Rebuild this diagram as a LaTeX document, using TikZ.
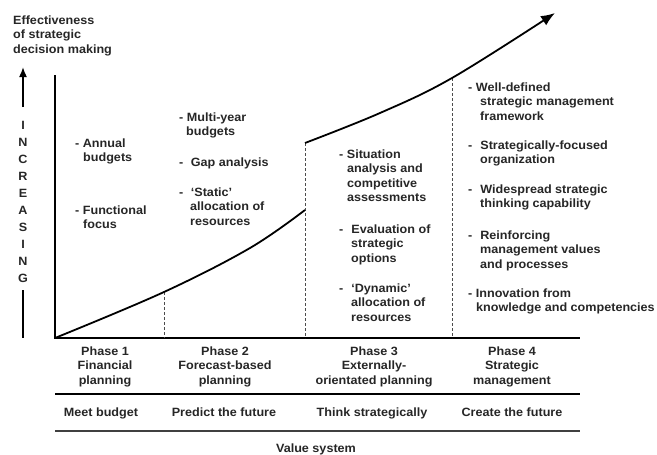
\documentclass[tikz,border=0pt]{standalone}
\usepackage{fontspec}
\setmainfont{Liberation Sans}[FakeStretch=1.05]
\usetikzlibrary{arrows.meta,positioning}

\begin{document}
\begin{tikzpicture}
  [
    x=1pt, y=-1pt,
    every node/.style={font=\bfseries\fontsize{12}{14.5}\selectfont, text=black!85},
    Item/.style={anchor=base west, align=left, inner sep=0pt},
    Phase/.style={anchor=base, align=center, inner sep=0pt},
    Letter/.style={inner sep=0pt},
    Axis/.style={line width=2pt, line join=miter},
    Rule/.style={line width=2pt},
    Divider/.style={line width=0.7pt, black!70, dash pattern=on 3pt off 2pt},
    Curve/.style={line width=1.8pt}
  ]
  \useasboundingbox (0,0) rectangle (657,455);
  % Nodes (placed at the baseline of their last line)
  \node[Item] (title) at (13,53) {Effectiveness\\of strategic\\decision making};
  \foreach \l [count=\i] in {I,N,C,R,E,A,S,I,N,G}
    \node[Letter] (inc\i) at (23,{125+17*(\i-1)}) {\l};
  \node[Item] (p1a) at (75,161.5) {- Annual\\\hspace*{8pt}budgets};
  \node[Item] (p1b) at (75,228.5) {- Functional\\\hspace*{8pt}focus};
  \node[Item] (p2a) at (179,135.5) {- Multi-year\\\hspace*{7pt}budgets};
  \node[Item] (p2b) at (179,166) {-\hspace{7.5pt}Gap analysis};
  \node[Item] (p2c) at (179,225) {-\hspace{7.5pt}`Static'\\\hspace*{11pt}allocation of\\\hspace*{11pt}resources};
  \node[Item] (p3a) at (339,201.5) {- Situation\\\hspace*{8pt}analysis and\\\hspace*{8pt}competitive\\\hspace*{8pt}assessments};
  \node[Item] (p3b) at (339,262) {-\hspace{8pt}Evaluation of\\\hspace*{12pt}strategic\\\hspace*{12pt}options};
  \node[Item] (p3c) at (339,321) {-\hspace{8pt}`Dynamic'\\\hspace*{12pt}allocation of\\\hspace*{12pt}resources};
  \node[Item] (p4a) at (468,120) {- Well-defined\\\hspace*{12pt}strategic management\\\hspace*{12pt}framework};
  \node[Item] (p4b) at (468,163.5) {-\hspace{8pt}Strategically-focused\\\hspace*{12pt}organization};
  \node[Item] (p4c) at (468,207.5) {-\hspace{8pt}Widespread strategic\\\hspace*{12pt}thinking capability};
  \node[Item] (p4d) at (468,268) {-\hspace{8pt}Reinforcing\\\hspace*{12pt}management values\\\hspace*{12pt}and processes};
  \node[Item] (p4e) at (468,311.5) {- Innovation from\\\hspace*{8pt}knowledge and competencies};
  \node[Phase] (ph1) at (105,384) {Phase 1\\Financial\\planning};
  \node[Phase] (ph2) at (225,384) {Phase 2\\Forecast-based\\planning};
  \node[Phase] (ph3) at (374,384) {Phase 3\\Externally-\\orientated planning};
  \node[Phase] (ph4) at (512,384) {Phase 4\\Strategic\\management};
  \node[Phase] (val1) at (101,416) {Meet budget};
  \node[Phase] (val2) at (224,416) {Predict the future};
  \node[Phase] (val3) at (372,416) {Think strategically};
  \node[Phase] (val4) at (512,416) {Create the future};
  \node[Phase] (valsys) at (316,452) {Value system};
  % Points
  \coordinate (origin) at (55,338);
  \coordinate (ytop) at (55,75);
  \coordinate (xend) at (580,338);
  \coordinate (cut1) at (164,292);
  \coordinate (cut2lo) at (305,210);
  \coordinate (cut2hi) at (305,143);
  \coordinate (cut3) at (452,78);
  \coordinate (tip) at (555,13);
  % Lines
  \draw[-{Latex[length=10pt,width=8pt]}, line width=1.6pt] (23,107) -- (23,67);
  \draw[line width=1.6pt] (23,290) -- (23,338);
  \draw[Axis] (ytop) -- (origin) -- (xend);
  \draw[Rule] (55,394) -- (580,394);
  \draw[Rule, black!75] (55,431) -- (580,431);
  \draw[Divider] (cut1) -- (cut1 |- origin);
  \draw[Divider] (cut2hi) -- (cut2hi |- origin);
  \draw[Divider] (cut3) -- (cut3 |- origin);
  \draw[Curve] plot[smooth, tension=0.6] coordinates {(origin) (cut1) (250,248) (cut2lo)};
  \draw[Curve, -{Latex[length=14pt,width=11pt]}] plot[smooth, tension=0.6] coordinates {(cut2hi) (380,113) (cut3) (tip)};
\end{tikzpicture}
\end{document}
